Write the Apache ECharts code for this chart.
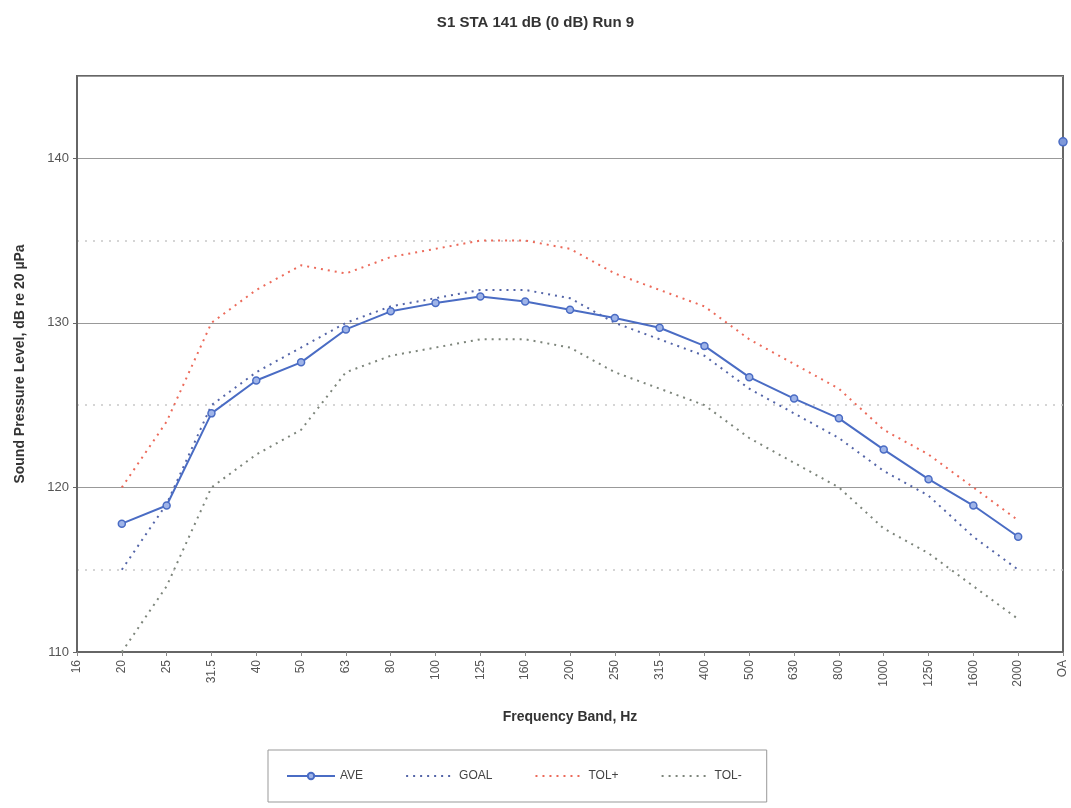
<!DOCTYPE html>
<html>
<head>
<meta charset="utf-8">
<script src="https://cdn.jsdelivr.net/npm/echarts@6/dist/echarts.min.js"></script>
<style>
  html, body { margin: 0; padding: 0; background: #fff; }
  #chart { width: 1071px; height: 808px; }
</style>
</head>
<body>
<div id="chart"></div>
<script>
var bands = ['16', '20', '25', '31.5', '40', '50', '63', '80', '100', '125', '160', '200',
    '250', '315', '400', '500', '630', '800', '1000', '1250', '1600', '2000', 'OA'];

var ave  = [null, 117.8, 118.9, 124.5, 126.5, 127.6, 129.6, 130.7, 131.2, 131.6, 131.3, 130.8,
    130.3, 129.7, 128.6, 126.7, 125.4, 124.2, 122.3, 120.5, 118.9, 117.0, null];
var aveOA = [null, null, null, null, null, null, null, null, null, null, null, null,
    null, null, null, null, null, null, null, null, null, null, 141.0];
var goal = [null, 115, 119, 125, 127, 128.5, 130, 131, 131.5, 132, 132, 131.5,
    130, 129, 128, 126, 124.5, 123, 121, 119.5, 117, 115, null];
var tolPlus = [null, 120, 124, 130, 132, 133.5, 133, 134, 134.5, 135, 135, 134.5,
    133, 132, 131, 129, 127.5, 126, 123.5, 122, 120, 118, null];
var tolMinus = [null, 110, 114, 120, 122, 123.5, 127, 128, 128.5, 129, 129, 128.5,
    127, 126, 125, 123, 121.5, 120, 117.5, 116, 114, 112, null];

var chart = echarts.init(document.getElementById('chart'));

var aveColor = '#4a6cc4';
var dotted = [2, 5];
var noMark = { opacity: 0 };

var option = {
    animation: false,
    backgroundColor: '#fff',
    textStyle: { fontFamily: 'Liberation Sans, Arial, sans-serif' },
    title: {
        text: 'S1 STA 141 dB (0 dB) Run 9',
        left: 'center',
        top: 10,
        textStyle: { fontSize: 15, fontWeight: 'bold', color: '#333' }
    },
    grid: {
        left: 77, right: 8, top: 76, bottom: 156,
        show: true,
        borderColor: '#666',
        borderWidth: 2
    },
    legend: {
        bottom: 6,
        left: 268,
        padding: [20, 25, 20, 18],
        itemGap: 42,
        itemWidth: 48,
        itemHeight: 8,
        borderColor: '#999',
        borderWidth: 1,
        textStyle: { fontSize: 12, color: '#444' },
        data: [
            { name: 'AVE' },
            { name: 'GOAL', itemStyle: noMark },
            { name: 'TOL+', itemStyle: noMark },
            { name: 'TOL-', itemStyle: noMark }
        ]
    },
    xAxis: {
        type: 'category',
        data: bands,
        boundaryGap: false,
        name: 'Frequency Band, Hz',
        nameLocation: 'middle',
        nameGap: 58,
        nameTextStyle: { fontSize: 14, fontWeight: 'bold', color: '#333' },
        axisLine: { lineStyle: { color: '#666', width: 2 } },
        axisTick: { show: true, length: 4, lineStyle: { color: '#888' } },
        axisLabel: { rotate: 90, fontSize: 12, color: '#555', margin: 8 },
        splitLine: { show: false }
    },
    yAxis: {
        type: 'value',
        min: 110,
        max: 145,
        interval: 10,
        name: 'Sound Pressure Level, dB re 20 µPa',
        nameLocation: 'middle',
        nameGap: 50,
        nameTextStyle: { fontSize: 14, fontWeight: 'bold', color: '#333' },
        axisLine: { show: true, lineStyle: { color: '#666', width: 2 } },
        axisTick: { show: true, length: 4, lineStyle: { color: '#666' } },
        axisLabel: { fontSize: 13, color: '#555', showMaxLabel: false },
        splitLine: { show: true, lineStyle: { color: '#999', width: 1 } },
        minorTick: { show: false, splitNumber: 2 },
        minorSplitLine: { show: true, lineStyle: { color: '#c8c8c8', type: [2, 6], width: 1.5 } }
    },
    series: [
        {
            name: 'AVE',
            type: 'line',
            data: ave,
            symbol: 'circle',
            symbolSize: 7,
            itemStyle: { color: '#9fb4e8', borderColor: aveColor, borderWidth: 1.5 },
            lineStyle: { color: aveColor, width: 2 },
            z: 5
        },
        {
            name: 'AVE',
            type: 'line',
            data: aveOA,
            symbol: 'circle',
            symbolSize: 8,
            itemStyle: { color: '#7f98d8', borderColor: aveColor, borderWidth: 1.5 },
            lineStyle: { color: aveColor, width: 2 },
            z: 5
        },
        {
            name: 'GOAL',
            type: 'line',
            data: goal,
            symbol: 'none',
            itemStyle: { color: '#5465a8' },
            lineStyle: { color: '#5465a8', width: 2, type: dotted }
        },
        {
            name: 'TOL+',
            type: 'line',
            data: tolPlus,
            symbol: 'none',
            itemStyle: { color: '#ec6a5a' },
            lineStyle: { color: '#ec6a5a', width: 2, type: dotted }
        },
        {
            name: 'TOL-',
            type: 'line',
            data: tolMinus,
            symbol: 'none',
            itemStyle: { color: '#7d857b' },
            lineStyle: { color: '#7d857b', width: 2, type: dotted }
        }
    ]
};

chart.setOption(option);
</script>
</body>
</html>
